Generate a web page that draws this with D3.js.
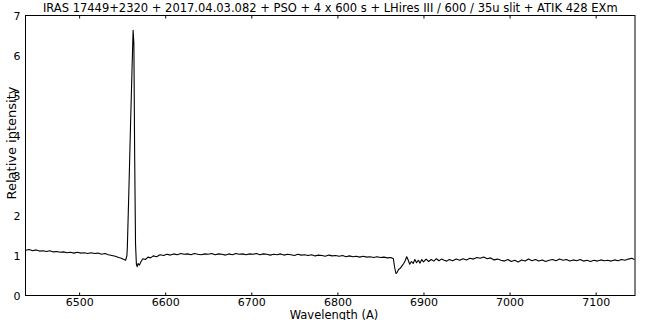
<!DOCTYPE html>
<html>
<head>
<meta charset="utf-8">
<script src="https://cdn.jsdelivr.net/npm/d3@7"></script>
<style>
  body { margin: 0; background: #fff; }
  svg { display: block; }
</style>
</head>
<body>
<div id="chart"></div>
<script>
var TITLE = 'IRAS 17449+2320 + 2017.04.03.082 + PSO + 4 x 600 s + LHires III / 600 / 35u slit + ATIK 428 EXm';
var X_LABEL = 'Wavelength (A)';
var Y_LABEL = 'Relative intensity';

var xTicks = [6500, 6600, 6700, 6800, 6900, 7000, 7100];
var yTicks = [0, 1, 2, 3, 4, 5, 6, 7];

var wavelength = [
  6438, 6442, 6446, 6450, 6454, 6458, 6462, 6466, 6470, 6474, 6478, 6482, 6486, 6490, 6494, 6498,
  6502, 6506, 6510, 6514, 6518, 6522, 6526, 6530, 6534, 6538, 6542, 6546, 6549, 6552, 6554, 6555.5,
  6556, 6558, 6560, 6561.5, 6562.7, 6563.6, 6564.5, 6565.5, 6566.5, 6567.5, 6568.5, 6570, 6572, 6574,
  6577, 6580, 6583, 6586, 6590, 6594, 6598,
  6602, 6606, 6610, 6614, 6618, 6622, 6626, 6630, 6634, 6638, 6642, 6646, 6650, 6654, 6658, 6662,
  6666, 6670, 6674, 6678, 6682, 6686, 6690, 6694, 6698, 6702, 6706, 6710, 6714, 6718, 6722, 6726,
  6730, 6734, 6738, 6742, 6746, 6750, 6754, 6758, 6762, 6766, 6770, 6774, 6778, 6782, 6786, 6790,
  6794, 6798, 6802, 6806, 6810, 6814, 6818, 6822, 6826, 6830, 6834, 6838, 6842, 6846, 6850, 6854,
  6858, 6862, 6865, 6866.5, 6868, 6869.5, 6871, 6873, 6875, 6877, 6879, 6880.5, 6882, 6884, 6886,
  6888, 6890, 6892, 6894, 6896, 6898, 6900, 6903, 6906, 6909, 6912, 6915, 6918, 6921, 6924, 6927,
  6930, 6934, 6938, 6942, 6946, 6950, 6954, 6958, 6962, 6966, 6970, 6974, 6978, 6982, 6986, 6990,
  6994, 6998, 7002, 7006, 7010, 7014, 7018, 7022, 7026, 7030, 7034, 7038, 7042, 7046, 7050, 7054,
  7058, 7062, 7066, 7070, 7074, 7078, 7082, 7086, 7090, 7094, 7098, 7102, 7106, 7110, 7114, 7118,
  7122, 7126, 7130, 7134, 7138, 7142, 7145
];

var intensity = [
  1.13, 1.15, 1.12, 1.14, 1.11, 1.12, 1.10, 1.12, 1.09, 1.10, 1.08, 1.09, 1.07, 1.08, 1.06, 1.08,
  1.06, 1.07, 1.05, 1.07, 1.05, 1.06, 1.03, 1.05, 1.02, 1.00, 0.98, 0.95, 0.93, 0.90, 0.88, 1.00,
  1.20, 2.80, 4.50, 5.70, 6.63, 6.30, 3.50, 1.30, 0.78, 0.72, 0.80, 0.76, 0.85, 0.92,
  0.90, 0.96, 0.94, 0.99, 0.97, 1.02, 1.00,
  1.03, 1.01, 1.04, 1.02, 1.05, 1.03, 1.04, 1.02, 1.05, 1.03, 1.02, 1.04, 1.03, 1.05, 1.02, 1.04,
  1.03, 1.01, 1.04, 1.02, 1.05, 1.03, 1.04, 1.02, 1.04, 1.03, 1.05, 1.02, 1.04, 1.03, 1.01, 1.03,
  1.02, 1.04, 1.01, 1.03, 1.02, 1.00, 1.03, 1.01, 1.02, 1.00, 1.02, 0.99, 1.01, 1.00, 0.98, 1.01,
  0.99, 1.00, 0.98, 1.00, 0.97, 0.99, 0.97, 0.98, 0.96, 0.98, 0.96, 0.97, 0.95, 0.97, 0.95, 0.96,
  0.94, 0.95, 0.92, 0.70, 0.55, 0.58, 0.65, 0.68, 0.74, 0.80, 0.88, 0.97, 0.90, 0.78, 0.85,
  0.80, 0.90, 0.82, 0.88, 0.81, 0.90, 0.84, 0.91, 0.85, 0.90, 0.86, 0.92, 0.87, 0.91, 0.88, 0.86,
  0.90, 0.87, 0.91, 0.88, 0.92, 0.89, 0.93, 0.91, 0.95, 0.93, 0.96, 0.92, 0.94, 0.89, 0.91, 0.88,
  0.86, 0.90, 0.85, 0.88, 0.84, 0.89, 0.86, 0.91, 0.87, 0.90, 0.86, 0.89, 0.85, 0.88, 0.90, 0.87,
  0.91, 0.88, 0.90, 0.86, 0.89, 0.87, 0.90, 0.86, 0.88, 0.85, 0.88, 0.86, 0.89, 0.87, 0.88, 0.86,
  0.89, 0.87, 0.90, 0.88, 0.91, 0.93, 0.90
];

(function () {
  'use strict';

  var WIDTH = 645,
    HEIGHT = 320,
    FONT = '"DejaVu Sans", Verdana, sans-serif',
    COLOR_LINE = '#000000',
    COLOR_TEXT = '#000000',
    margin = { top: 15.5, right: 10, bottom: 24.5, left: 25.5 },
    svg, plot, x, y, w, h, line, points;

  w = WIDTH - margin.left - margin.right;
  h = HEIGHT - margin.top - margin.bottom;

  svg = d3.select('#chart').append('svg')
    .attr('width', WIDTH)
    .attr('height', HEIGHT);

  x = d3.scaleLinear().domain([6437.7, 7145.7]).range([0, w]);
  y = d3.scaleLinear().domain([0, 7]).range([h, 0]);

  plot = svg.append('g').attr('transform', 'translate(' + margin.left + ',' + margin.top + ')');

  points = wavelength.map(function (d, i) { return [d, intensity[i]]; });

  line = d3.line()
    .x(function (d) { return x(d[0]); })
    .y(function (d) { return y(d[1]); });

  plot.append('path')
    .datum(points)
    .attr('d', line)
    .attr('fill', 'none')
    .attr('stroke', COLOR_LINE)
    .attr('stroke-width', 1.1)
    .attr('stroke-linejoin', 'round');

  // bottom / top ticks point inward, labels only at the bottom
  plot.append('g')
    .attr('transform', 'translate(0,' + h + ')')
    .call(d3.axisBottom(x).tickValues(xTicks).tickFormat(d3.format('d'))
      .tickSizeInner(-3).tickSizeOuter(0).tickPadding(3))
    .call(function (g) { g.select('.domain').remove(); });

  plot.append('g')
    .call(d3.axisTop(x).tickValues(xTicks).tickSizeInner(-3).tickSizeOuter(0).tickFormat(''))
    .call(function (g) { g.select('.domain').remove(); });

  plot.append('g')
    .call(d3.axisLeft(y).tickValues(yTicks).tickFormat(d3.format('d'))
      .tickSizeInner(0).tickSizeOuter(0).tickPadding(5))
    .call(function (g) { g.select('.domain').remove(); });

  plot.selectAll('.tick text')
    .attr('font-family', FONT)
    .attr('font-size', '11px')
    .attr('fill', COLOR_TEXT);

  plot.selectAll('.tick line').attr('stroke', COLOR_LINE);

  plot.append('rect')
    .attr('width', w)
    .attr('height', h)
    .attr('fill', 'none')
    .attr('stroke', COLOR_LINE)
    .attr('stroke-width', 1);

  svg.append('text')
    .attr('x', margin.left + w / 2)
    .attr('y', 12)
    .attr('text-anchor', 'middle')
    .attr('font-family', FONT)
    .attr('font-size', '11.5px')
    .attr('fill', COLOR_TEXT)
    .text(TITLE);

  svg.append('text')
    .attr('x', 334)
    .attr('y', 318.5)
    .attr('text-anchor', 'middle')
    .attr('font-family', FONT)
    .attr('font-size', '11.5px')
    .attr('fill', COLOR_TEXT)
    .text(X_LABEL);

  svg.append('text')
    .attr('transform', 'translate(16,143) rotate(-90)')
    .attr('text-anchor', 'middle')
    .attr('font-family', FONT)
    .attr('font-size', '13px')
    .attr('fill', COLOR_TEXT)
    .text(Y_LABEL);
})();
</script>
</body>
</html>
